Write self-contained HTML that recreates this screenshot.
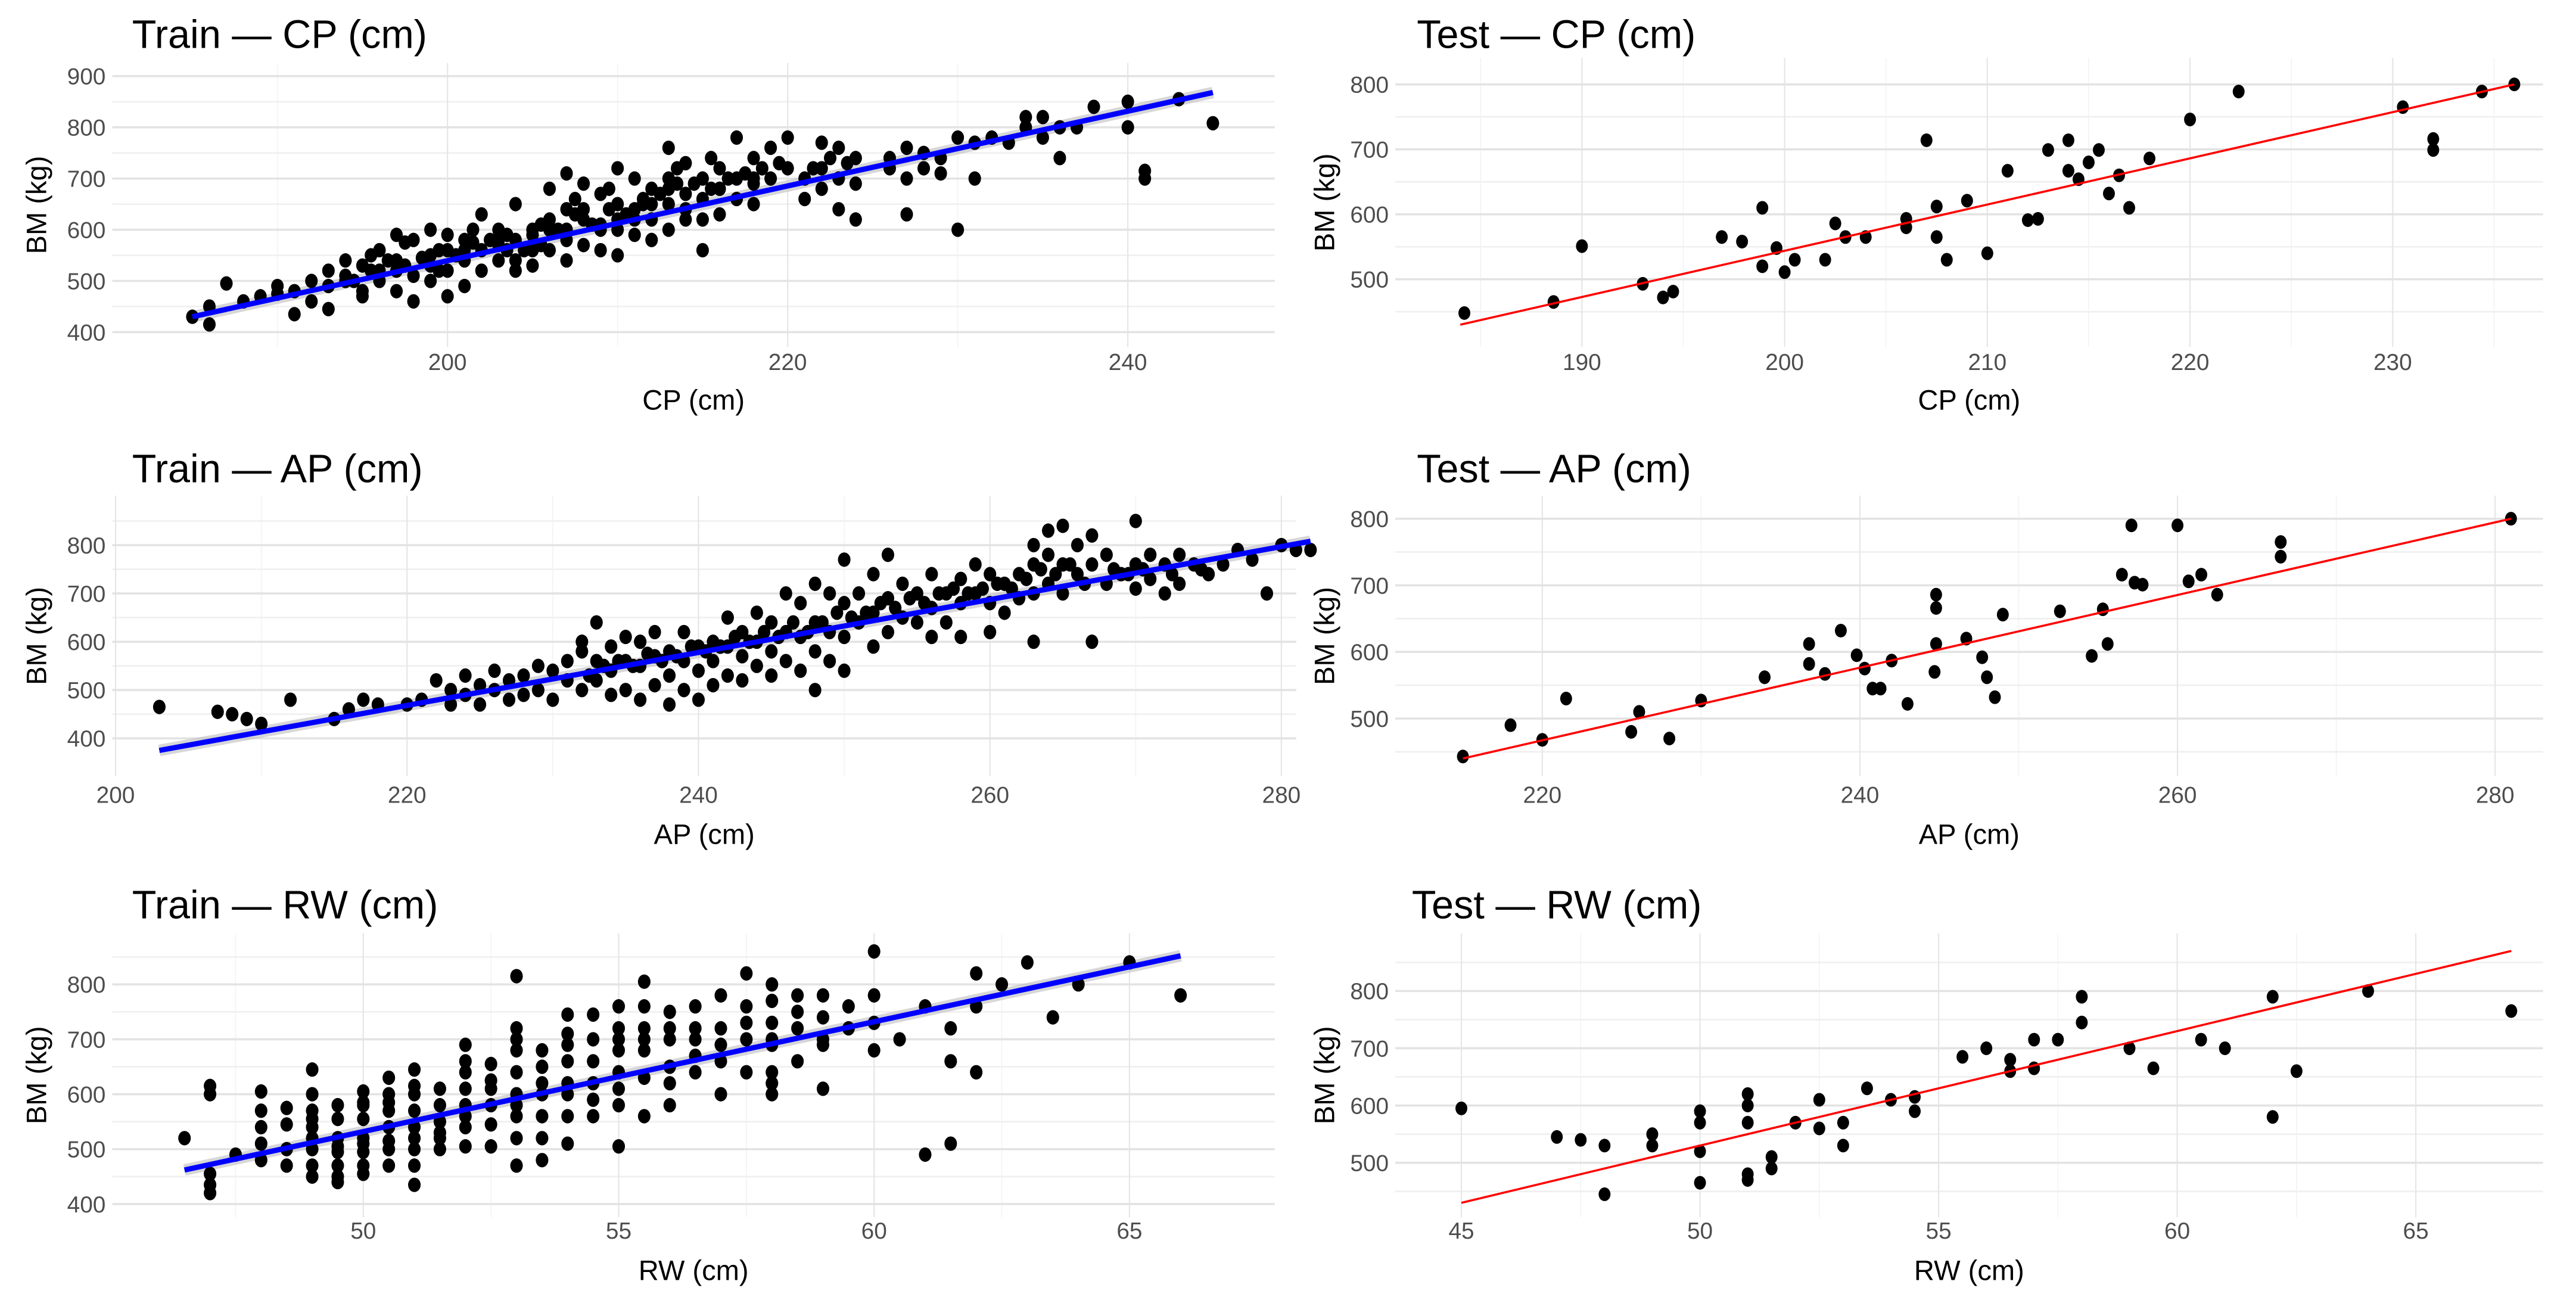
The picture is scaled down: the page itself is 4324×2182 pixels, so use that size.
<!DOCTYPE html>
<html><head><meta charset="utf-8"><style>
html,body{margin:0;padding:0;background:#fff;}
svg{display:block;}
text{font-family:"Liberation Sans",sans-serif;}
</style></head><body>
<svg id="fig" width="4324" height="2182" viewBox="0 0 1560 787" xmlns="http://www.w3.org/2000/svg"></svg>
<script>
// ---------- Train CP ----------
const trainCpX=[185,186,186,187,188,189,190,190,191,191,192,192,193,193,193,194,194,195,195,195,196,196,196,197,197,197,198,198,198,199,199,199,200,200,200,200,201,201,201,202,202,202,203,203,203,204,204,204,205,205,205,206,206,206,207,207,207,207,208,208,208,209,209,209,210,210,210,210,211,211,211,212,212,212,213,213,213,213,214,214,214,215,215,215,215,216,216,216,217,217,217,218,218,218,219,219,220,220,221,221,222,222,222,223,223,223,224,224,224,226,226,227,227,227,228,228,229,229,230,230,231,231,232,233,234,234,235,235,236,236,237,238,240,240,241,241,243,245,194,197,199,201,203,205,206,208,209,211,212,214,216,218,204,207,210,213,
194.5,195.5,196.5,197.5,198.5,199.5,200.5,201.5,202.5,203.5,204.5,205.5,206.5,207.5,208.5,209.5,210.5,211.5,212.5,213.5,214.5,215.5,216.5,217.5,218.5,219.5,221.5,222.5,223.5,195.5,197.5,199.5,201.5,203.5,205.5,207.5,209.5,211.5,213.5,215.5];
const trainCpY=[430,415,450,495,460,470,490,475,435,480,460,500,520,445,490,540,510,530,480,470,560,500,520,590,540,480,580,510,460,600,550,500,560,590,520,470,540,580,490,630,560,520,600,540,570,650,580,520,600,560,530,680,620,560,710,640,580,540,690,620,570,670,610,560,720,650,600,550,700,640,590,680,620,580,760,700,650,600,730,670,620,700,660,620,560,720,680,630,780,700,660,740,690,650,760,700,780,720,700,660,770,720,680,760,700,640,740,690,620,740,720,760,700,630,750,720,740,710,780,600,770,700,780,770,800,820,780,820,740,800,800,840,800,850,700,715,855,808,500,520,530,560,580,590,600,640,600,620,650,640,680,700,540,600,620,680,
500,520,540,530,545,560,550,575,580,590,560,610,600,630,610,640,630,660,670,690,690,680,700,710,720,730,720,740,730,550,575,520,600,560,570,660,680,650,720,740];
const trainCpFit=[[185,430],[245,868]];
// ---------- Test CP ----------
const testCpX=[184.2,188.6,190,193,194,194.5,196.9,197.9,198.9,198.9,199.6,200,200.5,202,202.5,203,204,206,206,207,207.5,207.5,208,209,210,211,212,212.5,213,214,214,214.5,215,215.5,216,216.5,217,218,220,222.4,230.5,232,232,234.4,236];
const testCpY=[448,465,551,493,472,481,565,558,610,520,548,511,530,530,586,565,565,593,580,714,612,565,530,621,540,667,591,593,699,714,667,654,680,699,632,660,610,686,746,789,765,716,699,789,800];
const testCpFit=[[184,430],[236,800]];
// ---------- Train AP ----------
const trainApX=[203,207,208,209,210,212,215,216,217,218,220,221,222,223,223,224,224,225,225,226,226,227,227,228,228,229,229,230,230,231,231,232,232,232,233,233,233,234,234,234,235,235,235,236,236,236,237,237,237,238,238,238,239,239,239,240,240,240,241,241,241,242,242,242,243,243,243,244,244,244,245,245,245,246,246,246,247,247,247,248,248,248,248,249,249,249,250,250,250,250,251,251,252,252,252,253,253,253,254,254,255,255,256,256,256,257,257,258,258,258,259,259,260,260,260,261,261,262,262,263,263,263,263,264,264,264,265,265,265,266,266,267,267,267,268,268,269,270,270,270,271,271,272,272,273,273,274,275,276,277,278,279,280,281,282,
232.5,233.5,234.5,235.5,236.5,237.5,238.5,239.5,240.5,241.5,242.5,243.5,244.5,245.5,246.5,247.5,248.5,249.5,250.5,251.5,252.5,253.5,254.5,255.5,256.5,257.5,258.5,259.5,260.5,261.5,262.5,263.5,264.5,265.5,266.5,268.5,269.5,270.5,272.5,274.5];
const trainApY=[465,455,450,440,430,480,440,460,480,470,470,480,520,500,470,530,490,470,510,500,540,520,480,530,490,500,550,540,480,560,520,580,600,500,640,560,520,590,540,490,610,560,500,600,550,480,620,570,510,580,530,470,620,560,500,590,540,480,600,560,510,650,590,530,620,570,520,660,600,550,640,580,530,700,620,560,680,610,540,720,640,580,500,700,620,560,770,680,610,540,700,640,740,660,590,780,690,620,720,650,700,640,740,670,610,700,640,730,680,610,760,700,740,680,620,720,660,740,690,800,760,700,600,830,780,720,840,760,700,800,740,820,760,600,780,720,740,850,760,710,780,730,760,700,780,720,760,740,760,790,770,700,800,790,790,
530,550,560,550,575,560,570,590,580,590,610,600,620,610,640,620,640,660,650,660,680,670,690,680,700,710,700,710,720,710,730,750,740,760,720,750,740,750,740,750];
const trainApFit=[[203,375],[282,808]];
// ---------- Test AP ----------
const testApX=[215,218,220,221.5,225.6,226.1,228,230,234,236.8,236.8,237.8,238.8,239.8,240.3,240.8,241.3,242,243,244.7,244.8,244.8,244.8,246.7,247.7,248,248.5,249,252.6,254.6,255.3,255.6,256.5,257.1,257.3,257.8,260,260.7,261.5,262.5,266.5,266.5,281];
const testApY=[443,490,468,530,480,510,470,527,562,612,582,567,632,595,575,545,545,587,522,570,666,686,612,620,592,562,532,656,661,594,664,612,716,790,704,701,790,706,716,686,765,743,800];
const testApFit=[[215,440],[281,800]];
// ---------- Train RW ----------
const trainRwX=[46.5,47,47,47,47,47,47.5,48,48,48,48,48,48.5,48.5,48.5,48.5,49,49,49,49,49,49,49,49.5,49.5,49.5,49.5,49.5,49.5,50,50,50,50,50,50,50,50.5,50.5,50.5,50.5,50.5,50.5,51,51,51,51,51,51,51,51.5,51.5,51.5,51.5,51.5,52,52,52,52,52,52,52.5,52.5,52.5,52.5,52.5,53,53,53,53,53,53,53,53,53.5,53.5,53.5,53.5,53.5,54,54,54,54,54,54,54.5,54.5,54.5,54.5,54.5,55,55,55,55,55,55,55.5,55.5,55.5,55.5,55.5,56,56,56,56,56.5,56.5,56.5,57,57,57,57,57.5,57.5,57.5,57.5,58,58,58,58,58,58,58.5,58.5,58.5,59,59,59,59,59.5,59.5,60,60,60,60,60.5,61,61,61.5,61.5,61.5,62,62,62,62.5,63,63.5,64,65,66,
49,49,49.5,49.5,50,50,50.5,50.5,51,51,51.5,52,52,52.5,53,53,53.5,53.5,54,54,54.5,55,55,55.5,55.5,56,56,56.5,56.5,57,57.5,58,58,58.5,59];
const trainRwY=[520,615,600,455,435,420,490,605,570,540,510,480,575,545,500,470,645,600,570,540,500,470,450,555,520,495,470,450,440,605,580,555,520,495,470,455,630,600,570,540,500,470,645,600,570,540,500,470,435,610,580,550,520,500,690,640,610,580,540,505,655,610,580,545,505,815,720,680,640,600,560,520,470,680,650,600,560,480,745,710,660,620,560,510,745,700,660,620,560,760,720,680,640,580,505,805,720,680,630,560,750,700,650,580,760,700,640,780,720,660,600,820,760,700,640,800,770,730,690,640,600,780,720,660,780,740,690,610,760,720,860,780,730,680,700,760,490,720,660,510,820,760,640,800,840,740,800,840,780,
555,520,580,505,585,510,585,515,615,520,530,660,560,625,700,580,620,520,690,600,590,700,610,760,700,720,620,720,670,690,730,700,620,750,700];
const trainRwFit=[[46.5,462],[66,852]];
// ---------- Test RW ----------
const testRwX=[45,47,47.5,48,48,49,49,50,50,50,50,51,51,51,51,51,51.5,51.5,52,52.5,52.5,53,53,53.5,54,54.5,54.5,55.5,56,56.5,56.5,57,57,57.5,58,58,59,59.5,60.5,61,62,62,62.5,64,67];
const testRwY=[595,545,540,530,445,550,530,590,570,520,465,620,600,570,480,470,510,490,570,610,560,570,530,630,610,615,590,685,700,680,660,715,665,715,790,745,700,665,715,700,790,580,660,800,765];
const testRwFit=[[45,430],[67,870]];

const NS="http://www.w3.org/2000/svg";
const svg=document.getElementById('fig');
function el(tag,attrs,parent){const e=document.createElementNS(NS,tag);for(const k in attrs)e.setAttribute(k,attrs[k]);(parent||svg).appendChild(e);return e;}

function panel(cfg){
  const g=el('g',{});
  
  
  const sx=v=>cfg.xp[0]+(v-cfg.xv[0])*(cfg.xp[1]-cfg.xp[0])/(cfg.xv[1]-cfg.xv[0]);
  const sy=v=>cfg.yp[0]+(v-cfg.yv[0])*(cfg.yp[1]-cfg.yp[0])/(cfg.yv[1]-cfg.yv[0]);
  const L=cfg.box[0],R=cfg.box[1],T=cfg.box[2],B=cfg.box[3];
  cfg.xminor.forEach(v=>{const x=sx(v);const l=el('line',{x1:x,x2:x,y1:T,y2:B,stroke:'#f3f3f3','stroke-width':0.6},g);});
  cfg.yminor.forEach(v=>{const y=sy(v);const l=el('line',{x1:L,x2:R,y1:y,y2:y,stroke:'#f0f0f0','stroke-width':1},g);});
  cfg.xticks.forEach(v=>{const x=sx(v);const l=el('line',{x1:x,x2:x,y1:T,y2:B,stroke:'#e6e6e6','stroke-width':0.8},g);
    const t=el('text',{x:x,y:cfg.xtickY,'text-anchor':'middle','font-size':14,fill:'#4d4d4d'},g);t.textContent=v;});
  cfg.yticks.forEach(v=>{const y=sy(v);const l=el('line',{x1:L,x2:R,y1:y,y2:y,stroke:'#e3e3e3','stroke-width':1.3},g);
    const t=el('text',{x:L-4,y:y+5,'text-anchor':'end','font-size':14,fill:'#4d4d4d'},g);t.textContent=v;});
  const f=cfg.fit;
  if(cfg.ribbon){
    const r=el('line',{x1:sx(f[0][0]),y1:sy(f[0][1]),x2:sx(f[1][0]),y2:sy(f[1][1]),stroke:'#bdbdbd','stroke-width':7,'stroke-opacity':0.6},g);
    
  }
  cfg.X.forEach((xv,i)=>{const c=el('ellipse',{cx:sx(xv),cy:sy(cfg.Y[i]),rx:cfg.r,ry:cfg.r*1.15,fill:'#000'},g);});
  const fl=el('line',{x1:sx(f[0][0]),y1:sy(f[0][1]),x2:sx(f[1][0]),y2:sy(f[1][1]),stroke:cfg.lineColor,'stroke-width':cfg.lineW},g);
  
  const tt=el('text',{x:cfg.titleX,y:cfg.titleY,'font-size':24,fill:'#000'},g);tt.textContent=cfg.title;
  
  const xt=el('text',{x:(L+R)/2,y:cfg.xtitleY,'text-anchor':'middle','font-size':17,fill:'#000'},g);xt.textContent=cfg.xlab;
  
  const yc=(T+B)/2;
  const yt=el('text',{x:cfg.ytitleX,y:yc,'text-anchor':'middle','font-size':17,fill:'#000',transform:`rotate(-90 ${cfg.ytitleX} ${yc})`},g);yt.textContent='BM (kg)';
  
}

panel({name:'train-cp-panel',title:'Train \u2014 CP (cm)',xlab:'CP (cm)',X:trainCpX,Y:trainCpY,fit:trainCpFit,ribbon:true,lineColor:'#0000ff',lineW:3.2,r:3.8,
  xp:[271,477],xv:[200,220],yp:[46,201],yv:[900,400],box:[68,772,38,210],
  xticks:[200,220,240],xminor:[190,210,230],yticks:[400,500,600,700,800,900],yminor:[450,550,650,750,850],
  xtickY:224,xtitleY:248,ytitleX:28,titleX:80,titleY:29});
panel({name:'test-cp-panel',title:'Test  \u2014 CP (cm)',xlab:'CP (cm)',X:testCpX,Y:testCpY,fit:testCpFit,ribbon:false,lineColor:'#ff0000',lineW:1.3,r:3.6,
  xp:[958,1449],xv:[190,230],yp:[51,169],yv:[800,500],box:[845,1540,35,210],
  xticks:[190,200,210,220,230],xminor:[185,195,205,215,225,235],yticks:[500,600,700,800],yminor:[450,550,650,750],
  xtickY:224,xtitleY:248,ytitleX:808,titleX:858,titleY:29});
panel({name:'train-ap-panel',title:'Train \u2014 AP (cm)',xlab:'AP (cm)',X:trainApX,Y:trainApY,fit:trainApFit,ribbon:true,lineColor:'#0000ff',lineW:3.2,r:3.8,
  xp:[70,776],xv:[200,280],yp:[330,447],yv:[800,400],box:[68,785,300,470],
  xticks:[200,220,240,260,280],xminor:[210,230,250,270],yticks:[400,500,600,700,800],yminor:[450,550,650,750,850],
  xtickY:486,xtitleY:511,ytitleX:28,titleX:80,titleY:292});
panel({name:'test-ap-panel',title:'Test  \u2014 AP (cm)',xlab:'AP (cm)',X:testApX,Y:testApY,fit:testApFit,ribbon:false,lineColor:'#ff0000',lineW:1.3,r:3.6,
  xp:[934,1511],xv:[220,280],yp:[314,435],yv:[800,500],box:[845,1540,300,470],
  xticks:[220,240,260,280],xminor:[230,250,270],yticks:[500,600,700,800],yminor:[450,550,650,750],
  xtickY:486,xtitleY:511,ytitleX:808,titleX:858,titleY:292});
panel({name:'train-rw-panel',title:'Train \u2014 RW (cm)',xlab:'RW (cm)',X:trainRwX,Y:trainRwY,fit:trainRwFit,ribbon:true,lineColor:'#0000ff',lineW:3.2,r:3.8,
  xp:[220,684],xv:[50,65],yp:[596,729],yv:[800,400],box:[68,772,565,737],
  xticks:[50,55,60,65],xminor:[47.5,52.5,57.5,62.5],yticks:[400,500,600,700,800],yminor:[450,550,650,750,850],
  xtickY:750,xtitleY:775,ytitleX:28,titleX:80,titleY:556});
panel({name:'test-rw-panel',title:'Test  \u2014 RW (cm)',xlab:'RW (cm)',X:testRwX,Y:testRwY,fit:testRwFit,ribbon:false,lineColor:'#ff0000',lineW:1.3,r:3.6,
  xp:[885,1463],xv:[45,65],yp:[600,704],yv:[800,500],box:[845,1540,565,737],
  xticks:[45,50,55,60,65],xminor:[47.5,52.5,57.5,62.5],yticks:[500,600,700,800],yminor:[450,550,650,750,850],
  xtickY:750,xtitleY:775,ytitleX:808,titleX:855,titleY:556});
</script>
</body></html>
